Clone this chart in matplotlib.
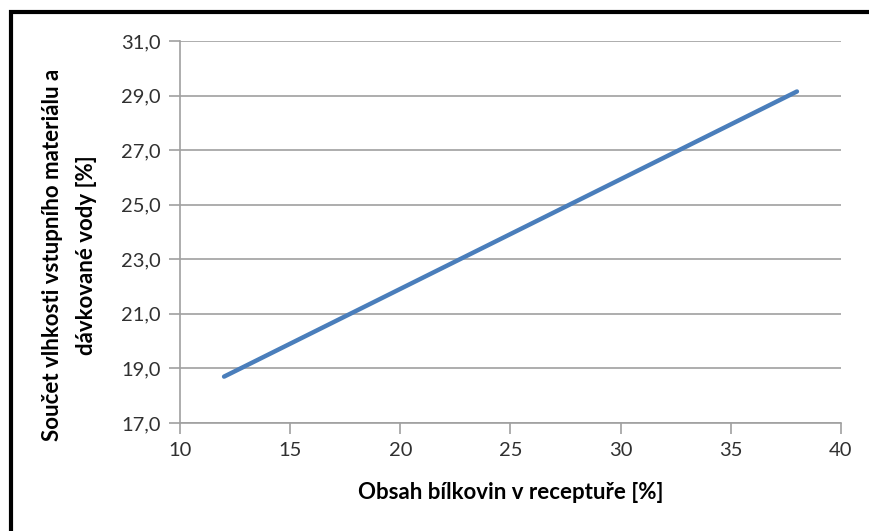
import matplotlib.pyplot as plt
from matplotlib.patches import Rectangle
from matplotlib.ticker import FuncFormatter

# Data
protein = [12, 38]
moisture_sum = [18.7, 29.15]
x_ticks = [10, 15, 20, 25, 30, 35, 40]
y_ticks = [17, 19, 21, 23, 25, 27, 29, 31]

plt.rcParams['font.family'] = ['Lato', 'DejaVu Sans']

fig = plt.figure(figsize=(8.69, 5.31), dpi=100)
ax = fig.add_axes([180 / 869, 1 - 423 / 531, 661 / 869, 382 / 531])

ax.plot(protein, moisture_sum, color='#4a7ebb', linewidth=3.2, solid_capstyle='round')

ax.set_xlim(10, 40)
ax.set_ylim(17, 31)
ax.set_xticks(x_ticks)
ax.set_yticks(y_ticks)
ax.yaxis.set_major_formatter(FuncFormatter(lambda v, pos: f'{v:.1f}'.replace('.', ',')))

ax.grid(axis='y', color='#a0a0a0', linewidth=1.2)
ax.set_axisbelow(True)
for side in ['top', 'right']:
    ax.spines[side].set_visible(False)
for side in ['left', 'bottom']:
    ax.spines[side].set_color('#a0a0a0')
    ax.spines[side].set_linewidth(1.2)
ax.tick_params(color='#a0a0a0', width=1.2, length=8, labelsize=14.5, labelcolor='#303030', pad=6)

ax.set_xlabel('Obsah bílkovin v receptuře [%]', fontsize=16, fontweight='bold', labelpad=16)
ax.set_ylabel('Součet vlhkosti vstupního materiálu a\ndávkované vody [%]', fontsize=16,
              fontweight='bold', linespacing=1.75)
ax.yaxis.set_label_coords(-0.126, 0.44)

# Outer frame (only top and left edges visible in the crop)
fig.patches.append(Rectangle((11 / 869, -0.1), 1.1, 1 - 12 / 531 + 0.1, transform=fig.transFigure,
                             fill=False, edgecolor='black', linewidth=3))

fig.savefig('out.png', dpi=100)
